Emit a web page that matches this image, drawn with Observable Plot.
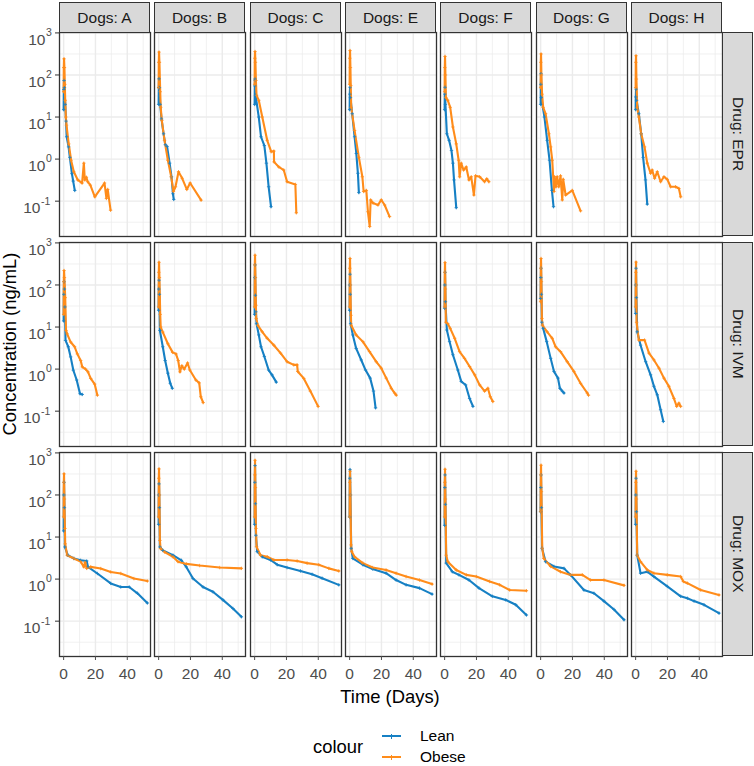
<!DOCTYPE html>
<html><head><meta charset="utf-8">
<script src="https://cdn.jsdelivr.net/npm/d3@7"></script>
<script src="https://cdn.jsdelivr.net/npm/@observablehq/plot@0.6"></script>
<style>
body{margin:0;background:#fff;font-family:"Liberation Sans",Arial,sans-serif;}
#wrap{position:relative;width:754px;height:766px;overflow:hidden;}
.strip{position:absolute;box-sizing:border-box;background:#d9d9d9;border:1.3px solid #333;color:#1a1a1a;font-size:15.5px;display:flex;align-items:center;justify-content:center;}
.vert{writing-mode:vertical-rl;}
.t{position:absolute;white-space:nowrap;color:#000;}
</style></head><body><div id="wrap"></div><script>
const dogs = ["A","B","C","E","F","G","H"];
const drugs = ["EPR","IVM","MOX"];
const groups = ["Lean","Obese"];
const groupColors = ["#1680c4","#ff8c1a"];
const xTicks = [0,20,40];
const xMinor = [10,30,50];
const yTicks = [0.1,1,10,100,1000];
const yTickExponents = ["-1","0","1","2","3"];
const yMinor = [0.0316,0.316,3.16,31.6,316];

// [time (days), concentration (ng/mL)]
const EPR_A_Lean = [[0,15],[0.1,45],[0.25,74],[0.5,50],[1,20],[1.5,8],[1.9,3.4],[3.1,1.95],[3.9,1.1],[5.2,0.45],[6,0.3],[7,0.18]];
const EPR_A_Obese = [[0,40],[0.1,150],[0.25,242],[0.5,150],[0.75,60],[1,25],[1.4,10],[1.8,6.4],[3.2,2.3],[4.7,0.94],[6.4,0.5],[8.9,0.32],[11.6,0.27],[12.7,0.8],[13.3,0.32],[14.3,0.37],[15.1,0.29],[16.8,0.24],[19.6,0.127],[25.7,0.27],[26.9,0.116],[27.7,0.19],[29.5,0.061]];
const EPR_B_Lean = [[0,20],[0.1,50],[0.25,81],[0.5,50],[1,20],[1.8,9],[3.1,4],[4.2,2.2],[5.3,2.0],[6.9,0.8],[8.1,0.38],[9,0.15],[9.5,0.11]];
const EPR_B_Obese = [[0,50],[0.1,200],[0.25,350],[0.5,200],[1,40],[1.3,17],[2,8.3],[3.7,2.8],[5.8,0.94],[7.9,0.38],[9.3,0.17],[10.6,0.22],[12.5,0.5],[14.8,0.35],[17.7,0.19],[19.8,0.27],[26.7,0.106]];
const EPR_C_Lean = [[0,20],[0.1,55],[0.25,80],[0.4,74],[0.6,33],[2.6,10],[4,3.4],[6.1,2.1],[7.4,0.8],[8.8,0.22],[10.3,0.074]];
const EPR_C_Obese = [[0,60],[0.1,250],[0.25,360],[0.5,200],[0.8,74],[1.2,33],[2.6,25],[4.8,10],[7.9,2.8],[10.4,1.5],[12.1,1.55],[12.2,0.86],[15.2,0.65],[18.3,0.55],[20.4,0.29],[25.6,0.25],[26.2,0.053]];
const EPR_E_Lean = [[0,15],[0.1,35],[0.25,51],[0.5,29],[1.6,12],[3.1,3.4],[4.2,1.36],[5.2,0.46],[5.8,0.16]];
const EPR_E_Obese = [[0,60],[0.1,250],[0.25,380],[0.5,150],[0.7,56],[1,17],[3.1,4.8],[5.8,1.1],[8,0.38],[8.8,0.17],[10.5,0.18],[11.5,0.056],[12.6,0.025],[13.2,0.107],[14.7,0.09],[17.8,0.081],[19.9,0.107],[22,0.081],[25.1,0.043]];
const EPR_F_Lean = [[0,15],[0.1,35],[0.25,51],[0.5,20],[1.4,4],[2.8,2.8],[4.3,1.6],[5.2,0.8],[5.9,0.32],[7.3,0.07]];
const EPR_F_Obese = [[0,40],[0.1,150],[0.25,276],[0.5,100],[0.8,29],[2,25],[3.5,17],[5.2,5.8],[7.3,2.3],[8.8,0.94],[9.4,0.38],[10.4,0.8],[11.9,0.55],[13.6,0.65],[15.3,0.32],[16.7,0.38],[18.4,0.14],[19.4,0.4],[22,0.38],[25.1,0.29],[26.5,0.34],[27.8,0.29]];
const EPR_G_Lean = [[0,20],[0.1,60],[0.25,107],[0.4,29],[2.4,10],[4.1,2.8],[5.6,0.94],[7.1,0.18],[8.1,0.074]];
const EPR_G_Obese = [[0,50],[0.1,200],[0.25,316],[0.5,100],[0.9,35],[1.6,17],[3.1,12],[5.2,4],[6.3,1.95],[7.3,0.94],[8.4,0.17],[8.8,0.38],[9.6,0.22],[10.4,0.38],[11.4,0.22],[12.5,0.4],[13.6,0.107],[14.2,0.33],[15.7,0.14],[19.9,0.18],[25.1,0.059]];
const EPR_H_Lean = [[0,15],[0.1,30],[0.25,46],[0.6,25],[2,12],[3.5,4],[4.7,1.1],[6.2,0.32],[7.3,0.085]];
const EPR_H_Obese = [[0,50],[0.1,200],[0.25,287],[0.5,80],[1,17],[2,10],[3.5,4],[5.6,1.95],[7.3,0.8],[9.4,0.46],[10.4,0.55],[11.9,0.35],[13.6,0.5],[15.7,0.29],[17.8,0.38],[19.9,0.33],[22,0.22],[25.1,0.22],[27.2,0.2],[28.3,0.127]];

const IVM_A_Lean = [[0,14],[0.1,60],[0.25,120],[0.5,80],[0.8,30],[1.2,4.8],[2.9,3.4],[4.4,1.95],[6.1,0.94],[8.2,0.55],[10.3,0.26],[11.7,0.25]];
const IVM_A_Obese = [[0,20],[0.1,120],[0.25,220],[0.5,150],[1,50],[1.5,8.3],[2.2,6.9],[4.4,4.4],[6.9,3.4],[8.6,2.3],[10.7,1.6],[11.7,1.13],[13.8,1.0],[15.3,0.86],[17,0.6],[19.5,0.44],[21.2,0.24]];
const IVM_B_Lean = [[0,25],[0.1,80],[0.25,130],[0.5,60],[0.8,8.3],[2.6,3.4],[4.1,1.6],[5.8,0.8],[7.3,0.46],[8.6,0.35]];
const IVM_B_Obese = [[0,30],[0.1,200],[0.25,346],[0.5,150],[1,20],[1.3,10],[2.6,7.6],[5.8,4],[8.8,2.5],[10.9,2.3],[12.3,1.6],[13.4,0.86],[14.6,1.2],[16.1,1.0],[18.2,1.4],[19.6,0.95],[23.4,0.55],[25.5,0.47],[26.5,0.22],[28,0.16]];
const IVM_C_Lean = [[0,20],[0.1,150],[0.25,300],[0.5,57],[0.8,23],[1.2,12],[2.6,6.5],[4,3.4],[6.1,2.0],[8.8,0.95],[10.9,0.73],[13.6,0.49]];
const IVM_C_Obese = [[0,30],[0.1,300],[0.25,510],[0.5,150],[0.8,33],[1,16],[2,11],[4.8,7.7],[7.9,5.4],[12.1,3.7],[16.3,2.4],[20.4,1.5],[24.6,1.26],[26.7,1.26],[27.1,0.88],[30.9,0.6],[35,0.3],[39.9,0.13]];
const IVM_E_Lean = [[0,25],[0.1,100],[0.25,180],[0.4,60],[0.6,12],[2,6.5],[4.1,3.1],[7.3,1.65],[10,0.95],[12.9,0.61],[15,0.3],[16.3,0.12]];
const IVM_E_Obese = [[0,30],[0.1,250],[0.25,425],[0.5,100],[0.8,19],[1,11],[4.1,6.5],[8.3,4.5],[12.5,2.6],[16.7,1.5],[19.9,1.05],[23,0.61],[26.2,0.35],[28.3,0.27],[29.3,0.24]];
const IVM_F_Lean = [[0,28],[0.1,100],[0.25,200],[0.5,40],[1.4,8.5],[3.1,4.5],[5.2,2.2],[8.3,0.95],[10.4,0.51],[13.2,0.42],[15.7,0.2],[17.8,0.13]];
const IVM_F_Obese = [[0,30],[0.1,200],[0.25,340],[0.5,80],[0.8,13],[2,12],[3.5,9.3],[6.3,5.4],[9.4,2.6],[12.5,1.8],[15.7,1.15],[18.9,0.73],[22,0.42],[25.1,0.3],[27.2,0.35],[28.7,0.22],[30.3,0.17]];
const IVM_G_Lean = [[0,48],[0.1,150],[0.25,250],[0.5,60],[0.8,13],[1.6,9.3],[3.8,4.5],[6.3,1.8],[8.4,0.88],[10.9,0.61],[12.1,0.35],[13.6,0.3],[14.7,0.27]];
const IVM_G_Obese = [[0,40],[0.1,250],[0.25,425],[0.5,120],[0.8,16],[1.2,11],[4.1,7.7],[7.3,5.4],[9.4,3.4],[12.5,2.6],[16.7,1.5],[20.9,0.88],[25.1,0.46],[29.3,0.27],[30.1,0.24]];
const IVM_H_Lean = [[0,21],[0.1,100],[0.25,250],[0.5,50],[1,7.7],[3.1,3.7],[6.3,1.5],[9.4,0.73],[11.5,0.39],[13.6,0.245],[15.7,0.108],[17.4,0.057]];
const IVM_H_Obese = [[0,30],[0.1,200],[0.25,350],[0.4,100],[0.6,13],[2,4.9],[5.6,4.9],[8.4,2.4],[11.5,1.65],[14.7,1.05],[17.8,0.61],[20.9,0.39],[24.1,0.2],[25.8,0.13],[27.2,0.155],[28.3,0.13]];

const MOX_A_Lean = [[0,14],[0.1,100],[0.25,200],[0.5,50],[0.8,5.8],[2.6,3.7],[6.4,3.1],[10.7,2.8],[14.5,2.7],[15.3,1.95],[21.2,1.36],[29.6,0.79],[35.9,0.65],[41.2,0.65],[46.4,0.46],[52.6,0.27]];
const MOX_A_Obese = [[0,30],[0.1,200],[0.25,318],[0.5,80],[0.8,16],[1,6.9],[2.2,3.7],[6.4,3.1],[10.7,2.6],[12.7,1.95],[13.5,2.5],[14.5,1.8],[17,1.95],[23.3,1.78],[29.6,1.48],[35.9,1.36],[44.2,1.03],[52.6,0.9]];
const MOX_B_Lean = [[0,20],[0.1,100],[0.25,184],[0.5,50],[0.8,5.8],[2.7,4.8],[9,3.7],[14.3,2.8],[17.4,1.95],[21.6,1.03],[27.9,0.65],[34.1,0.5],[40.4,0.32],[46.7,0.2],[52,0.127]];
const MOX_B_Obese = [[0,30],[0.1,250],[0.25,417],[0.5,100],[0.8,8.3],[1.2,5.3],[3.8,4.4],[9,3.4],[12.2,2.6],[17.4,2.3],[25.8,2.1],[38.4,1.88],[52,1.8]];
const MOX_C_Lean = [[0,20],[0.1,200],[0.25,500],[0.5,62],[0.8,11],[1.6,4.5],[4.8,3.4],[10,2.85],[14.2,2.2],[20.4,1.88],[28.8,1.56],[36.1,1.3],[42.4,1.05],[52.9,0.73]];
const MOX_C_Obese = [[0,30],[0.1,300],[0.25,668],[0.5,150],[0.8,16],[1.2,5.9],[3.7,3.7],[7.9,3.4],[12.1,2.85],[20.4,2.85],[26.7,2.7],[33,2.4],[40.3,2.2],[46.6,1.8],[52.9,1.56]];
const MOX_E_Lean = [[0,30],[0.1,250],[0.25,400],[0.5,100],[1,5.4],[2,3.1],[8.3,2.2],[14.5,1.73],[22.9,1.38],[29.2,0.95],[35.5,0.73],[43.9,0.61],[51.8,0.44]];
const MOX_E_Obese = [[0,30],[0.1,200],[0.25,366],[0.5,100],[0.9,6.5],[1.3,4.5],[3.1,3.4],[8.3,2.4],[14.5,1.88],[22.9,1.65],[29.2,1.38],[35.5,1.15],[43.9,0.95],[51.8,0.76]];
const MOX_F_Lean = [[0,19],[0.1,150],[0.25,300],[0.5,60],[1,2.4],[4.8,1.5],[9,1.26],[15.3,0.95],[21.6,0.61],[30,0.39],[38.4,0.32],[44.7,0.245],[51.4,0.14]];
const MOX_F_Obese = [[0,30],[0.1,200],[0.25,409],[0.5,80],[1,3.7],[2,2.6],[7.3,1.65],[13.6,1.26],[19.9,1.15],[28.3,0.88],[34.6,0.73],[40.9,0.55],[51.4,0.53]];
const MOX_G_Lean = [[0,40],[0.1,150],[0.25,300],[0.5,50],[0.9,5.4],[3.1,2.6],[8.4,2.0],[14.7,1.8],[18.8,1.26],[27.2,0.55],[33.5,0.46],[39.8,0.3],[46.1,0.19],[52.4,0.108]];
const MOX_G_Obese = [[0,40],[0.1,300],[0.25,510],[0.5,120],[1,5.4],[2,3.1],[6.3,2.0],[12.5,1.5],[18.8,1.26],[26.2,1.26],[31.4,0.95],[39.8,0.95],[52.4,0.71]];
const MOX_H_Lean = [[0,20],[0.1,100],[0.25,250],[0.5,40],[1,3.7],[3.1,1.38],[7.3,1.5],[11.5,1.15],[19.9,0.67],[28.3,0.39],[32.5,0.35],[36.7,0.3],[43,0.245],[52.4,0.155]];
const MOX_H_Obese = [[0,30],[0.1,200],[0.25,366],[0.5,80],[1,3.7],[3.1,2.6],[7.3,1.65],[11.5,1.38],[19.9,1.26],[28.3,1.15],[30,0.88],[32.5,0.8],[40.9,0.55],[52.4,0.42]];

const seriesTable = [
 ["EPR","A","Lean",EPR_A_Lean],["EPR","A","Obese",EPR_A_Obese],
 ["EPR","B","Lean",EPR_B_Lean],["EPR","B","Obese",EPR_B_Obese],
 ["EPR","C","Lean",EPR_C_Lean],["EPR","C","Obese",EPR_C_Obese],
 ["EPR","E","Lean",EPR_E_Lean],["EPR","E","Obese",EPR_E_Obese],
 ["EPR","F","Lean",EPR_F_Lean],["EPR","F","Obese",EPR_F_Obese],
 ["EPR","G","Lean",EPR_G_Lean],["EPR","G","Obese",EPR_G_Obese],
 ["EPR","H","Lean",EPR_H_Lean],["EPR","H","Obese",EPR_H_Obese],
 ["IVM","A","Lean",IVM_A_Lean],["IVM","A","Obese",IVM_A_Obese],
 ["IVM","B","Lean",IVM_B_Lean],["IVM","B","Obese",IVM_B_Obese],
 ["IVM","C","Lean",IVM_C_Lean],["IVM","C","Obese",IVM_C_Obese],
 ["IVM","E","Lean",IVM_E_Lean],["IVM","E","Obese",IVM_E_Obese],
 ["IVM","F","Lean",IVM_F_Lean],["IVM","F","Obese",IVM_F_Obese],
 ["IVM","G","Lean",IVM_G_Lean],["IVM","G","Obese",IVM_G_Obese],
 ["IVM","H","Lean",IVM_H_Lean],["IVM","H","Obese",IVM_H_Obese],
 ["MOX","A","Lean",MOX_A_Lean],["MOX","A","Obese",MOX_A_Obese],
 ["MOX","B","Lean",MOX_B_Lean],["MOX","B","Obese",MOX_B_Obese],
 ["MOX","C","Lean",MOX_C_Lean],["MOX","C","Obese",MOX_C_Obese],
 ["MOX","E","Lean",MOX_E_Lean],["MOX","E","Obese",MOX_E_Obese],
 ["MOX","F","Lean",MOX_F_Lean],["MOX","F","Obese",MOX_F_Obese],
 ["MOX","G","Lean",MOX_G_Lean],["MOX","G","Obese",MOX_G_Obese],
 ["MOX","H","Lean",MOX_H_Lean],["MOX","H","Obese",MOX_H_Obese]
];
const rows = seriesTable.flatMap(([drug,dog,group,pts]) => pts.map(([t,c]) => ({drug,dog,group,t,c})));

// layout
const X0 = 59, STEP_X = 95.33, PW = 91, Y0 = 32, STEP_Y = 210, PH = 204;
const xDomain = [-2.6, 54.6];
const yDomain = [Math.pow(10,-1.84), Math.pow(10,3.01)];
const FONT = '"Liberation Sans", Arial, sans-serif';
const wrap = document.getElementById("wrap");

function add(el){ wrap.appendChild(el); return el; }
function div(cls, css, text){ const d=document.createElement("div"); d.className=cls; Object.assign(d.style, css); if(text!=null) d.textContent=text; return add(d); }

drugs.forEach((drug, j) => dogs.forEach((dog, i) => {
  const data = rows.filter(d => d.drug === drug && d.dog === dog);
  const isLeft = i === 0, isBottom = j === drugs.length - 1;
  const mL = isLeft ? 59 : 0, mB = isBottom ? 40 : 0;
  const marks = [
    Plot.ruleY(yMinor, {stroke:"#ebebeb", strokeWidth:0.7}),
    Plot.ruleX(xMinor, {stroke:"#ebebeb", strokeWidth:0.7}),
    Plot.ruleY(yTicks, {stroke:"#ebebeb", strokeWidth:1.4}),
    Plot.ruleX(xTicks, {stroke:"#ebebeb", strokeWidth:1.4}),
    Plot.line(data, {x:"t", y:"c", z:"group", stroke:"group", strokeWidth:2.1}),
    Plot.dot(data, {x:"t", y:"c", stroke:"group", symbol:"plus", r:1.2, strokeWidth:0.8}),
    Plot.frame({stroke:"#333", strokeWidth:1.3})
  ];
  if (isLeft) {
    marks.push(Plot.axisY({ticks: yTicks, tickSize: 4, tickFormat: () => "", stroke: "#333", label: null}));
    // "10" base plus raised exponent; whole label right-aligned (negative exponent is wider)
    yTicks.forEach((v, k) => {
      const shift = yTickExponents[k].length > 1 ? -5 : 0;
      marks.push(
        Plot.text([v], {y: d => d, text: () => "10", frameAnchor: "left", textAnchor: "end", dx: -14 + shift, dy: 7, fontSize: 15.5, fill: "#4d4d4d"}),
        Plot.text([v], {y: d => d, text: () => yTickExponents[k], frameAnchor: "left", textAnchor: "start", dx: -13.5 + shift, dy: 0, fontSize: 10.5, fill: "#4d4d4d"})
      );
    });
  }
  if (isBottom) {
    marks.push(Plot.axisX({ticks: xTicks, tickSize: 4, tickPadding: 7, color: "#4d4d4d", fontSize: 15.5, label: null}));
  }
  const chart = Plot.plot({
    width: PW + mL, height: PH + mB,
    marginLeft: mL, marginRight: 0, marginTop: 0, marginBottom: mB,
    style: {overflow: "visible", background: "transparent", fontFamily: FONT, fontSize: "15.5px"},
    x: {domain: xDomain, axis: null},
    y: {type: "log", domain: yDomain, axis: null},
    color: {domain: groups, range: groupColors},
    marks
  });
  chart.style.position = "absolute";
  chart.style.left = (Math.round(X0 + i*STEP_X) - mL) + "px";
  chart.style.top = (Y0 + j*STEP_Y) + "px";
  add(chart);
}));

// top strips
dogs.forEach((dog, i) => div("strip", {left: Math.round(X0 + i*STEP_X) + "px", top: "2px", width: PW + "px", height: "31px"}, "Dogs: " + dog));
// right strips
drugs.forEach((drug, j) => div("strip vert", {left: (Math.round(X0 + 6*STEP_X) + PW) + "px", top: (Y0 + j*STEP_Y) + "px", width: "31px", height: PH + "px"}, "Drug: " + drug));

// axis titles
div("t", {left: "-190px", top: "333px", width: "400px", height: "22px", lineHeight: "22px", textAlign: "center", fontSize: "18.4px", transform: "rotate(-90deg)"}, "Concentration (ng/mL)");
div("t", {left: "290px", top: "686px", width: "200px", height: "22px", lineHeight: "22px", textAlign: "center", fontSize: "18.4px"}, "Time (Days)");

// legend
div("t", {left: "313px", top: "736px", lineHeight: "22px", fontSize: "18.4px"}, "colour");
groups.forEach((g, k) => {
  const cy = 736 + k*21;
  div("t", {left: "382px", top: (cy - 1) + "px", width: "19px", height: "2px", background: groupColors[k]});
  div("t", {left: "391px", top: (cy - 2.5) + "px", width: "1px", height: "5px", background: groupColors[k]});
  div("t", {left: "420px", top: (cy - 10) + "px", lineHeight: "20px", fontSize: "15.5px", color: "#000"}, g);
});
</script></body></html>
